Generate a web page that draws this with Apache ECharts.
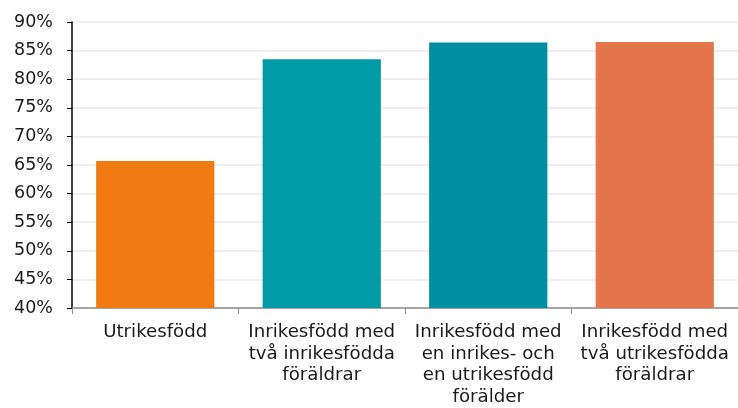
<!DOCTYPE html>
<html>
<head>
<meta charset="utf-8">
<script src="https://cdn.jsdelivr.net/npm/echarts@6/dist/echarts.min.js"></script>
<style>
  html, body { margin: 0; padding: 0; background: #fff; }
  #chart { width: 738px; height: 408px; }
</style>
</head>
<body>
<div id="chart"></div>
<script>
const categories = [
  "Utrikesfödd",
  "Inrikesfödd med\ntvå inrikesfödda\nföräldrar",
  "Inrikesfödd med\nen inrikes- och\nen utrikesfödd\nförälder",
  "Inrikesfödd med\ntvå utrikesfödda\nföräldrar"
]
const values = [65.7, 83.5, 86.4, 86.5]
const barColors = ["#f07b12", "#009ba6", "#008fa1", "#e4754b"]

const chart = echarts.init(document.getElementById("chart"))
const font = "DejaVu Sans"

chart.setOption({
  animation: false,
  grid: { left: 72, right: 0, top: 22, bottom: 100 },
  xAxis: {
    type: "category",
    data: categories,
    axisLine: { lineStyle: { color: "#8c8c8c", width: 1.5 } },
    axisTick: { show: true, length: 6, lineStyle: { color: "#8c8c8c" } },
    axisLabel: {
      color: "#1a1a1a",
      fontFamily: font,
      fontSize: 18.2,
      lineHeight: 21.5,
      margin: 14,
      interval: 0
    }
  },
  yAxis: {
    type: "value",
    min: 40,
    max: 90,
    interval: 5,
    axisLine: { show: true, lineStyle: { color: "#000", width: 1.5 } },
    axisTick: { show: true, length: 5, lineStyle: { color: "#000" } },
    axisLabel: {
      formatter: "{value}%",
      color: "#1a1a1a",
      fontFamily: font,
      fontSize: 17.5,
      margin: 19
    },
    splitLine: { lineStyle: { color: "#efefef", width: 2 } }
  },
  series: [
    {
      type: "bar",
      barWidth: "71%",
      data: values.map((v, i) => ({ value: v, itemStyle: { color: barColors[i] } }))
    }
  ]
})
</script>
</body>
</html>
